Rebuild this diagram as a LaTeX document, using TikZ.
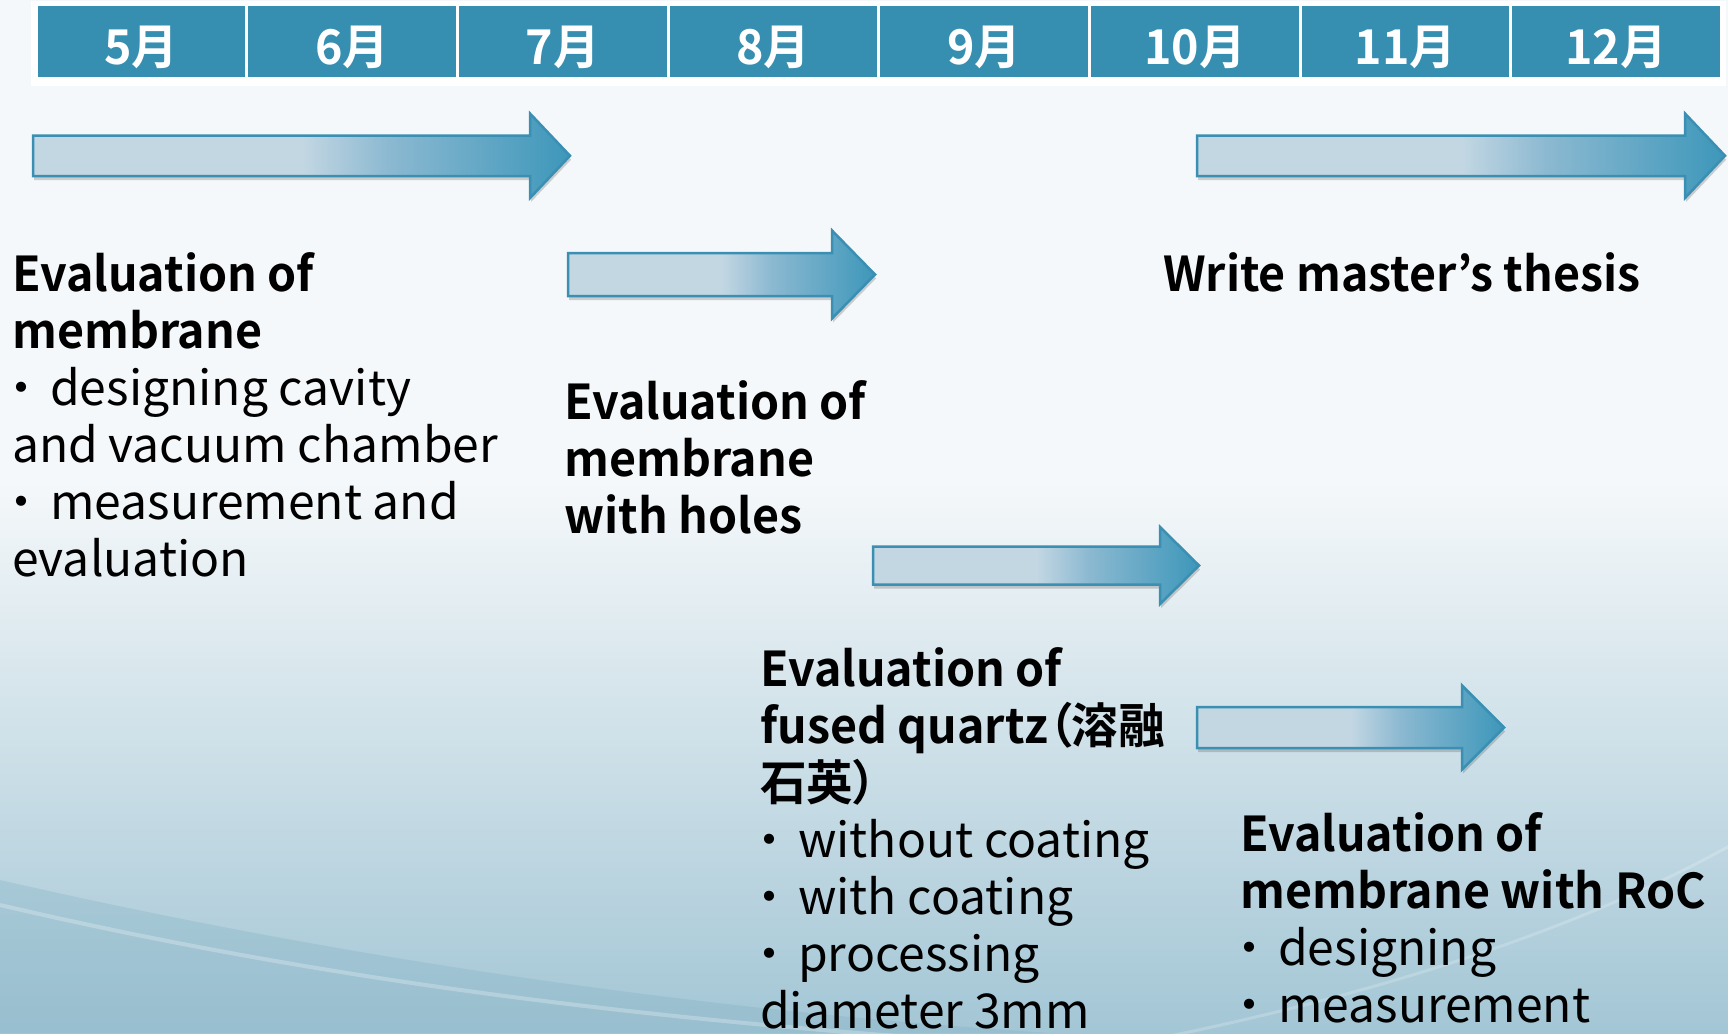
\documentclass[tikz,border=0pt]{standalone}
\usepackage{fontspec}
\setmainfont{Noto Sans CJK JP}[BoldFont={Noto Sans CJK JP Bold}, BoldFeatures={FakeStretch=0.97}]
\usetikzlibrary{shadows}
\definecolor{hdr}{HTML}{368FB1}
\definecolor{arrL}{HTML}{C3D7E3}
\definecolor{arrM}{HTML}{8CB9D1}
\definecolor{arrD}{HTML}{3D97BA}
\definecolor{arrB}{HTML}{3A8FB2}
\definecolor{bgtop}{HTML}{F5F8FA}
\definecolor{bgbot}{HTML}{A3C6D5}
\definecolor{bgdark}{HTML}{7FAFC3}
\pgfdeclarehorizontalshading{arrowshade}{100bp}{color(0bp)=(arrL); color(50bp)=(arrL); color(58bp)=(arrM); color(75bp)=(arrD); color(100bp)=(arrD)}
\newcommand\bul{\makebox[38pt][l]{\kern-15pt ・}}
\newcommand\prop[1]{{\addfontfeature{RawFeature=+palt}#1}}
\tikzset{
  month/.style={fill=hdr, text=white, font=\bfseries\fontsize{48}{48}\selectfont,
    minimum width=207.7pt, minimum height=71pt, inner sep=0pt,
    text height=50pt, text depth=5pt},
  lbl/.style={anchor=north west, inner sep=0pt, align=left,
    font=\fontsize{48}{57}\selectfont, text=black},
  arr/.style={draw=arrB, line width=2.5pt, line join=miter, shade, shading=arrowshade,
    drop shadow={shadow xshift=1pt, shadow yshift=-4pt, opacity=0.25, fill=black!70}}
}
\begin{document}
\begin{tikzpicture}[x=1pt,y=-1pt]
\useasboundingbox (0,0) rectangle (1728,1033);
% background
\fill[bgtop] (0,0) rectangle (1728,1033);
\shade[top color=bgtop, bottom color=bgbot] (0,480) rectangle (1728,1033);
\fill[bgdark, opacity=0.3] (0,880) .. controls (350,960) and (700,1010) .. (1050,1033) -- (0,1033) -- cycle;
\draw[white, opacity=0.25, line width=4pt] (0,905) .. controls (300,975) and (600,1015) .. (950,1040);
\draw[white, opacity=0.2, line width=3pt] (1150,1040) .. controls (1400,990) and (1600,920) .. (1740,840);
\fill[white] (31,1) rectangle (1726,86);
% header
\node[month] (m5)  at (141.35,41.5) {5月};
\node[month] (m6)  at (352.05,41.5) {6月};
\node[month] (m7)  at (562.75,41.5) {7月};
\node[month] (m8)  at (773.45,41.5) {8月};
\node[month] (m9)  at (984.15,41.5) {9月};
\node[month] (m10) at (1194.85,41.5) {10月};
\node[month] (m11) at (1405.55,41.5) {11月};
\node[month] (m12) at (1616.25,41.5) {12月};
% arrows
\path[arr] (33,135.5) -- (530,135.5) -- (530,113.5) -- (570,155.75) -- (530,198) -- (530,176) -- (33,176) -- cycle;
\path[arr] (1197,135.5) -- (1685,135.5) -- (1685,113.5) -- (1725,155.75) -- (1685,198) -- (1685,176) -- (1197,176) -- cycle;
\path[arr] (568,253) -- (832,253) -- (832,230.5) -- (875,274.5) -- (832,318.5) -- (832,296) -- (568,296) -- cycle;
\path[arr] (873,546.5) -- (1160,546.5) -- (1160,527) -- (1199,565.5) -- (1160,604) -- (1160,584.5) -- (873,584.5) -- cycle;
\path[arr] (1197,707) -- (1462,707) -- (1462,685.5) -- (1504,727.5) -- (1462,769.5) -- (1462,748) -- (1197,748) -- cycle;
% texts
\node[lbl] (t1) at (12,251) {\rule{0pt}{40pt}\textbf{Evaluation of}\\\textbf{membrane}\\\bul designing cavity\\and vacuum chamber\\\bul measurement and\\evaluation};
\node[lbl] (t2) at (564,379) {\rule{0pt}{40pt}\textbf{Evaluation of}\\\textbf{membrane}\\\textbf{with holes}};
\node[lbl] (t3) at (1163,251) {\rule{0pt}{40pt}\textbf{Write master’s thesis}};
\node[lbl] (t4) at (760,646) {\rule{0pt}{40pt}\textbf{Evaluation of}\\\textbf{fused quartz\prop{（}溶融}\\\textbf{石英\prop{）}}\\\bul without coating\\\bul with coating\\\bul processing\\diameter 3mm};
\node[lbl] (t5) at (1240,811) {\rule{0pt}{40pt}\textbf{Evaluation of}\\\textbf{membrane with RoC}\\\bul designing\\\bul measurement};
\end{tikzpicture}
\end{document}
